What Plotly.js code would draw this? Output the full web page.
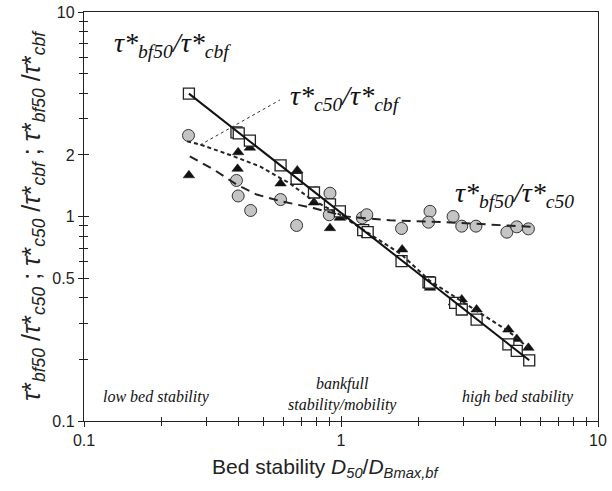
<!DOCTYPE html>
<html>
<head>
<meta charset="utf-8">
<script src="https://cdn.plot.ly/plotly-3.0.1.min.js"></script>
<style>
html,body{margin:0;padding:0;background:#fff;}
#chart{width:612px;height:491px;}
</style>
</head>
<body>
<div id="chart"></div>
<script>
// Open squares: tau*bf50 / tau*cbf
var xSq = [0.256, 0.392, 0.40, 0.442, 0.582, 0.672, 0.785, 0.906, 0.99, 1.22, 1.27, 1.72, 2.19, 2.22, 2.78, 2.95, 3.37, 4.48, 4.83, 5.40];
var ySq = [3.99, 2.58, 2.55, 2.35, 1.78, 1.53, 1.31, 1.145, 1.06, 0.857, 0.838, 0.605, 0.477, 0.475, 0.378, 0.351, 0.313, 0.237, 0.220, 0.198];

// Black triangles: tau*c50 / tau*cbf
var xTri = [0.256, 0.396, 0.398, 0.442, 0.582, 0.676, 0.785, 0.906, 0.99, 1.26, 1.73, 2.22, 2.75, 2.95, 3.37, 4.48, 4.83, 5.36];
var yTri = [1.59, 1.71, 2.06, 2.17, 1.45, 1.68, 1.17, 0.877, 0.985, 0.814, 0.69, 0.448, 0.38, 0.393, 0.351, 0.28, 0.252, 0.228];

// Grey circles: tau*bf50 / tau*c50
var xCir = [0.255, 0.392, 0.398, 0.445, 0.582, 0.672, 0.906, 0.90, 1.21, 1.26, 1.72, 2.22, 2.19, 2.73, 2.95, 3.35, 4.42, 4.83, 5.36];
var yCir = [2.49, 1.50, 1.26, 1.07, 1.21, 0.904, 1.30, 1.02, 0.985, 1.02, 0.874, 1.06, 0.938, 1.0, 0.897, 0.897, 0.838, 0.89, 0.87];

// Fitted curves
var xFitSq = [0.256, 1.0, 5.40];
var yFitSq = [3.99, 1.045, 0.198];

var xFitTri = [0.252, 0.283, 0.37, 0.484, 0.633, 0.758, 0.99, 1.72, 2.22, 3.37, 4.48, 5.45];
var yFitTri = [2.33, 2.25, 2.0, 1.756, 1.45, 1.225, 1.02, 0.652, 0.484, 0.344, 0.275, 0.224];

var xFitCir = [0.258, 0.319, 0.393, 0.47, 0.58, 0.78, 1.05, 1.55, 2.66, 3.8, 5.6];
var yFitCir = [1.97, 1.70, 1.43, 1.28, 1.19, 1.10, 1.0, 0.959, 0.935, 0.91, 0.89];

// Axis ticks
var xTickVals = [0.1, 1, 10];
var xTickText = ['0.1', '1', '10'];
var xMinorVals = [0.2, 0.3, 0.4, 0.5, 0.6, 0.7, 0.8, 0.9, 2, 3, 4, 5, 6, 7, 8, 9];
var yTickVals = [0.1, 0.5, 1, 2, 10];
var yTickText = ['0.1', '0.5', '1', '2', '10'];
var yMinorVals = [0.2, 0.3, 0.4, 0.6, 0.7, 0.8, 0.9, 3, 4, 5, 6, 7, 8, 9];

var INK = '#222';
var serif = 'Liberation Serif, Times New Roman, serif';
var sans = 'Liberation Sans, Arial, sans-serif';

var traces = [
  {x: xCir, y: yCir, mode: 'markers', type: 'scatter',
   marker: {symbol: 'circle', size: 12, color: '#c4c4c4', line: {color: '#333', width: 1}}},
  {x: xTri, y: yTri, mode: 'markers', type: 'scatter',
   marker: {symbol: 'triangle-up', size: 10, color: '#111', line: {color: '#111', width: 0.5}}},
  {x: xSq, y: ySq, mode: 'markers', type: 'scatter',
   marker: {symbol: 'square', size: 11, color: '#fff', line: {color: '#222', width: 1.3}}},
  {x: xFitCir, y: yFitCir, mode: 'lines', type: 'scatter',
   line: {color: '#222', width: 2, dash: '9px,6px'}},
  {x: xFitTri, y: yFitTri, mode: 'lines', type: 'scatter',
   line: {color: '#222', width: 2, dash: '4px,3px'}},
  {x: xFitSq, y: yFitSq, mode: 'lines', type: 'scatter',
   line: {color: '#111', width: 2}},
  {x: [], y: [], xaxis: 'x2', yaxis: 'y2', mode: 'markers', type: 'scatter'}
];

function axisBase(tv, tt, mv) {
  return {
    type: 'log', range: [-1, 1], autorange: false,
    tickmode: 'array', tickvals: tv, ticktext: tt,
    ticks: 'outside', ticklen: 5, tickwidth: 1, tickcolor: INK,
    minor: {tickmode: 'array', tickvals: mv, ticks: 'outside', ticklen: 4, tickwidth: 1, tickcolor: INK},
    showgrid: false, zeroline: false,
    showline: true, linecolor: INK, linewidth: 1.2, mirror: true,
    tickfont: {family: sans, size: 16, color: INK}
  };
}

var xa = axisBase(xTickVals, xTickText, xMinorVals);
var ya = axisBase(yTickVals, yTickText, yMinorVals);
ya.title = {text: '<i>τ</i>*<sub><i>bf50</i></sub> /<i>τ</i>*<sub><i>c50</i></sub> ; <i>τ</i>*<sub><i>c50</i></sub> /<i>τ</i>*<sub><i>cbf</i></sub> ; <i>τ</i>*<sub><i>bf50</i></sub> /<i>τ</i>*<sub><i>cbf</i></sub>',
            font: {family: sans, size: 25, color: INK}, standoff: 4};

var layout = {
  width: 612, height: 491,
  margin: {l: 84, r: 14, t: 12, b: 70},
  paper_bgcolor: '#fff', plot_bgcolor: '#fff',
  showlegend: false,
  xaxis: xa,
  yaxis: ya,
  xaxis2: {type: 'log', range: [-1, 1], autorange: false, overlaying: 'x', anchor: 'y', side: 'bottom',
           tickmode: 'array', tickvals: xTickVals, ticks: 'inside', ticklen: 5, tickcolor: INK,
           minor: {tickmode: 'array', tickvals: xMinorVals, ticks: 'inside', ticklen: 4, tickcolor: INK},
           showticklabels: false, showgrid: false, zeroline: false, showline: false},
  yaxis2: {type: 'log', range: [-1, 1], autorange: false, overlaying: 'y', anchor: 'x', side: 'left',
           tickmode: 'array', tickvals: yTickVals, ticks: 'inside', ticklen: 5, tickcolor: INK,
           minor: {tickmode: 'array', tickvals: yMinorVals, ticks: 'inside', ticklen: 4, tickcolor: INK},
           showticklabels: false, showgrid: false, zeroline: false, showline: false},
  shapes: [
    {type: 'line', xref: 'paper', yref: 'paper', x0: 0.2257, y0: 0.6748, x1: 0.3813, y1: 0.785,
     line: {color: '#333', width: 1, dash: 'dot'}}
  ],
  annotations: [
    {xref: 'paper', yref: 'paper', x: 0.469, y: -0.115, xanchor: 'center', yanchor: 'middle', showarrow: false,
     text: 'Bed stability <i>D</i><sub><i>50</i></sub>/<i>D</i><sub><i>Bmax,bf</i></sub>',
     font: {family: sans, size: 21, color: INK}},
    {xref: 'paper', yref: 'paper', x: 0.054, y: 0.92, xanchor: 'left', yanchor: 'middle', showarrow: false,
     text: '<i>τ*<sub>bf50</sub>/τ*<sub>cbf</sub></i>', font: {family: serif, size: 28, color: '#111'}},
    {xref: 'paper', yref: 'paper', x: 0.397, y: 0.792, xanchor: 'left', yanchor: 'middle', showarrow: false,
     text: '<i>τ*<sub>c50</sub>/τ*<sub>cbf</sub></i>', font: {family: serif, size: 28, color: '#111'}},
    {xref: 'paper', yref: 'paper', x: 0.718, y: 0.553, xanchor: 'left', yanchor: 'middle', showarrow: false,
     text: '<i>τ*<sub>bf50</sub>/τ*<sub>c50</sub></i>', font: {family: serif, size: 28, color: '#111'}},
    {xref: 'paper', yref: 'paper', x: 0.142, y: 0.0587, xanchor: 'center', yanchor: 'middle', showarrow: false,
     text: '<i>low bed stability</i>', font: {family: serif, size: 16, color: '#111'}},
    {xref: 'paper', yref: 'paper', x: 0.502, y: 0.064, xanchor: 'center', yanchor: 'middle', showarrow: false,
     text: '<i>bankfull<br>stability/mobility</i>', font: {family: serif, size: 16, color: '#111'}},
    {xref: 'paper', yref: 'paper', x: 0.844, y: 0.059, xanchor: 'center', yanchor: 'middle', showarrow: false,
     text: '<i>high bed stability</i>', font: {family: serif, size: 16, color: '#111'}}
  ]
};

Plotly.newPlot('chart', traces, layout, {displayModeBar: false, staticPlot: true});
</script>
</body>
</html>
